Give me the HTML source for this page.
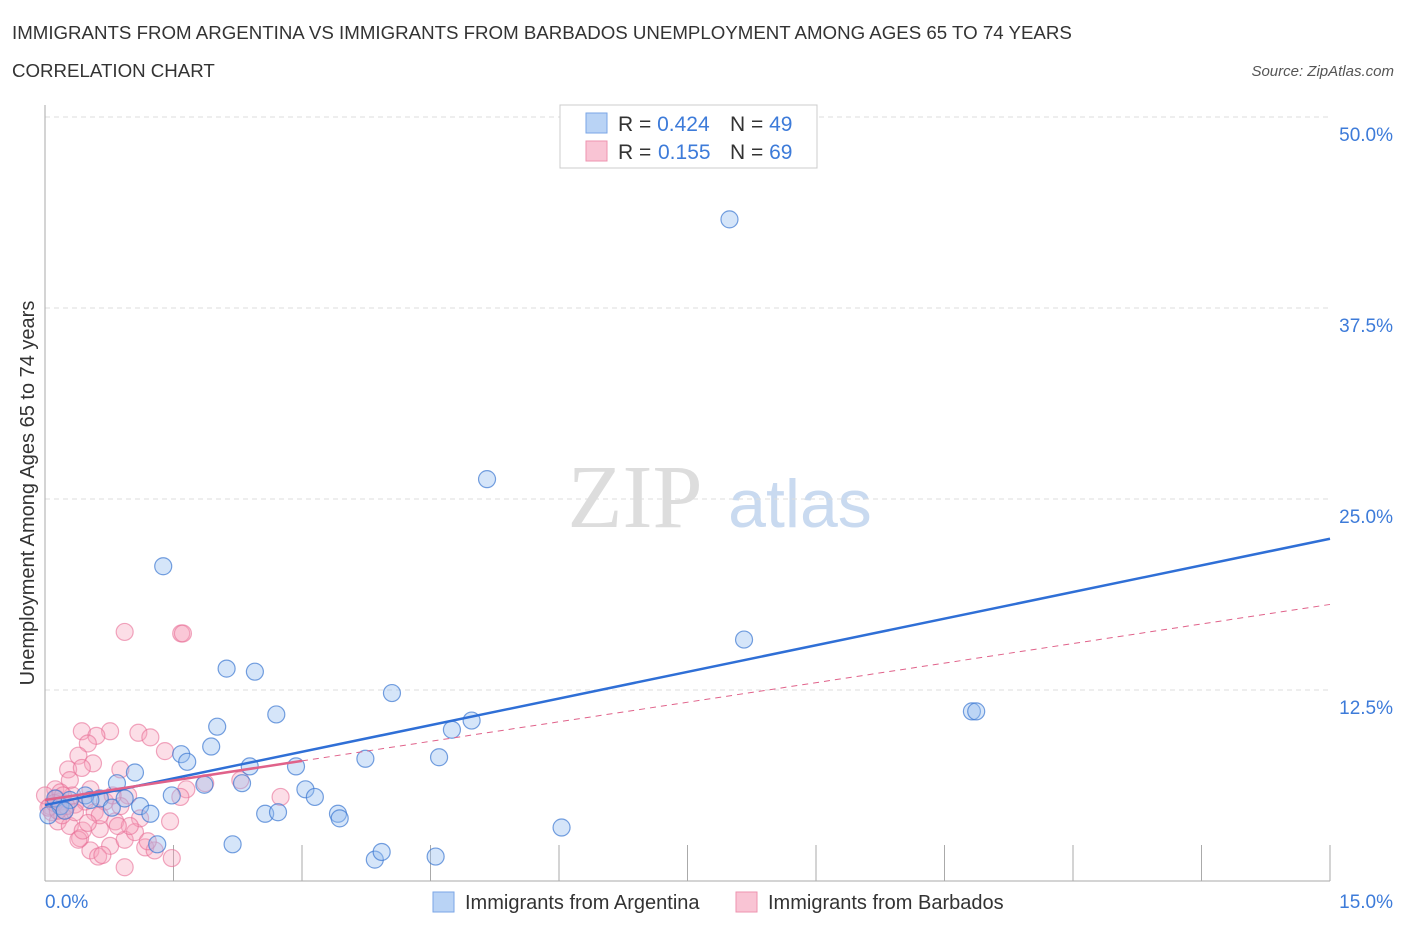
<!DOCTYPE html>
<html><head><meta charset="utf-8"><style>
body{margin:0;background:#fff;font-family:"Liberation Sans",sans-serif;}
svg{display:block}
</style></head><body>
<svg id="chart" width="1406" height="930">
<text x="12" y="39" font-size="18.7" fill="#333">IMMIGRANTS FROM ARGENTINA VS IMMIGRANTS FROM BARBADOS UNEMPLOYMENT AMONG AGES 65 TO 74 YEARS</text>
<text x="12" y="77" font-size="18.7" fill="#333">CORRELATION CHART</text>
<text x="1394" y="76" font-size="15" fill="#555" font-style="italic" text-anchor="end">Source: ZipAtlas.com</text>
<text x="635" y="527" font-size="90" fill="#ddd" font-family="Liberation Serif,serif" text-anchor="middle">ZIP</text>
<text x="800" y="527" font-size="68" fill="#c9daf0" text-anchor="middle">atlas</text>
<text transform="translate(34,493) rotate(-90)" font-size="20" fill="#333" text-anchor="middle">Unemployment Among Ages 65 to 74 years</text>
<g id="grid"></g><g id="pts"></g><g id="lines"></g>
<g>
<rect x="560" y="105" width="257" height="63" fill="#fff" stroke="#ccc"/>
<rect x="586" y="113" width="21" height="20" fill="#b9d3f5" stroke="#7aa6e6"/>
<rect x="586" y="141" width="21" height="20" fill="#f9c4d4" stroke="#ee93af"/>
<text x="618" y="131" font-size="21" fill="#333">R = <tspan fill="#3d7bd9">0.424</tspan></text>
<text x="730" y="131" font-size="21" fill="#333">N = <tspan fill="#3d7bd9">49</tspan></text>
<text x="618" y="159" font-size="21" fill="#333">R = <tspan fill="#3d7bd9" x="658">0.155</tspan></text>
<text x="730" y="159" font-size="21" fill="#333">N = <tspan fill="#3d7bd9">69</tspan></text>
</g>
<g>
<rect x="433" y="892" width="21" height="20" fill="#b9d3f5" stroke="#7aa6e6"/>
<text x="465" y="909" font-size="20" fill="#333">Immigrants from Argentina</text>
<rect x="736" y="892" width="21" height="20" fill="#f9c4d4" stroke="#ee93af"/>
<text x="768" y="909" font-size="20" fill="#333">Immigrants from Barbados</text>
</g>
<text x="45" y="908" font-size="19" fill="#3d7bd9">0.0%</text>
<text x="1393" y="908" font-size="19" fill="#3d7bd9" text-anchor="end">15.0%</text>
</svg>
<script>
const yTicks=[12.5,25,37.5,50];
const yTickLabels=["12.5%","25.0%","37.5%","50.0%"];
const blueX=[7.99,5.16,1.38,8.16,2.12,2.45,4.05,2.70,10.82,10.87,2.01,4.98,4.75,1.94,1.59,1.66,2.39,2.93,3.74,4.60,1.05,0.84,3.04,1.86,2.30,1.48,3.15,0.64,0.47,0.12,0.18,1.11,0.78,1.23,3.42,3.44,2.57,2.72,6.03,2.19,1.31,3.85,3.93,4.56,0.04,0.29,0.53,0.93,0.23];
const blueY=[43.3,26.3,20.6,15.8,13.9,13.7,12.3,10.9,11.1,11.1,10.1,10.5,9.9,8.8,8.3,7.8,7.5,7.5,8.0,8.1,7.1,6.4,6.0,6.3,6.4,5.6,5.5,5.4,5.6,5.4,4.9,4.9,4.8,4.4,4.4,4.1,4.4,4.5,3.5,2.4,2.4,1.4,1.9,1.6,4.3,5.3,5.3,5.4,4.6];
const pinkX=[0.93,1.59,1.61,0.43,0.76,1.09,1.23,0.60,0.50,0.39,1.40,0.88,0.27,0.56,0.43,0.29,1.65,1.87,2.28,2.75,1.58,0.12,0.18,0.06,0,0.08,0.15,0.23,0.35,0.47,0.58,0.70,0.82,0.97,0.29,0.41,0.53,0.64,0.76,0.93,1.05,1.17,1.28,1.48,0.93,0.62,0.39,0.20,0.04,0.13,0.32,0.53,0.18,0.25,0.64,0.88,1.11,1.46,0.79,0.44,0.67,0.99,0.35,0.50,0.11,0.21,0.85,1.20,0.15];
const pinkY=[16.3,16.2,16.2,9.8,9.8,9.7,9.4,9.5,9.0,8.2,8.5,7.3,7.3,7.7,7.4,6.6,6.0,6.4,6.6,5.5,5.5,6.0,5.2,4.9,5.6,4.5,3.9,4.6,5.0,5.2,4.5,5.2,3.9,5.6,3.6,2.8,2.0,3.4,2.3,2.7,3.2,2.2,2.0,1.5,0.9,1.6,2.7,4.3,4.8,5.4,5.6,6.0,5.8,4.9,4.3,4.9,4.1,3.9,5.6,3.3,1.7,3.6,4.5,3.8,5.1,5.6,3.6,2.6,4.6];
const trendX=[0,15];
const blueTrend=[4.97,22.4];
const pinkTrend=[5.3,18.1];
const pinkSolidEnd=3.0;
const X=v=>45+v/15*1285, Y=v=>881-v/12.5*191;
const NS="http://www.w3.org/2000/svg";
function mk(t,a,p){const e=document.createElementNS(NS,t);for(const k in a)e.setAttribute(k,a[k]);p.appendChild(e);return e;}
const grid=document.getElementById('grid');
yTicks.forEach((t,i)=>{
 const l=mk('line',{x1:45,x2:1330,y1:Y(t),y2:Y(t),stroke:'#ddd','stroke-dasharray':'5,4'},grid);
 
 
 const tx=mk('text',{x:1393,y:Y(t)+24,'font-size':19,fill:'#3d7bd9','text-anchor':'end'},grid);
 tx.textContent=yTickLabels[i];
 
 
});
const ax=mk('line',{x1:45,x2:1330,y1:881,y2:881,stroke:'#aaa'},grid);


const ay=mk('line',{x1:45,x2:45,y1:105,y2:881,stroke:'#aaa'},grid);


for(let i=1;i<=10;i++){const v=i*1.5;const t=mk('line',{x1:X(v),x2:X(v),y1:845,y2:881,stroke:'#aaa'},grid);
 
 }
const pts=document.getElementById('pts');
pinkX.forEach((x,i)=>{const c=mk('circle',{cx:X(x),cy:Y(pinkY[i]),r:8.5,fill:'rgba(245,160,185,0.35)',stroke:'rgba(232,110,150,0.6)','stroke-width':1.2},pts);
 
 });
blueX.forEach((x,i)=>{const c=mk('circle',{cx:X(x),cy:Y(blueY[i]),r:8.5,fill:'rgba(150,190,240,0.4)',stroke:'rgba(60,120,210,0.7)','stroke-width':1.2},pts);
 
 });
const lines=document.getElementById('lines');
const pv=x=>pinkTrend[0]+(pinkTrend[1]-pinkTrend[0])*(x-trendX[0])/(trendX[1]-trendX[0]);
const pd=mk('line',{x1:X(pinkSolidEnd),y1:Y(pv(pinkSolidEnd)),x2:X(trendX[1]),y2:Y(pinkTrend[1]),stroke:'#e0628a','stroke-width':1,'stroke-dasharray':'6,5'},lines);


const bl=mk('line',{x1:X(trendX[0]),y1:Y(blueTrend[0]),x2:X(trendX[1]),y2:Y(blueTrend[1]),stroke:'#2f6fd6','stroke-width':2.5},lines);


const ps=mk('line',{x1:X(trendX[0]),y1:Y(pinkTrend[0]),x2:X(pinkSolidEnd),y2:Y(pv(pinkSolidEnd)),stroke:'#e0628a','stroke-width':2.5},lines);


</script>
</body></html>
